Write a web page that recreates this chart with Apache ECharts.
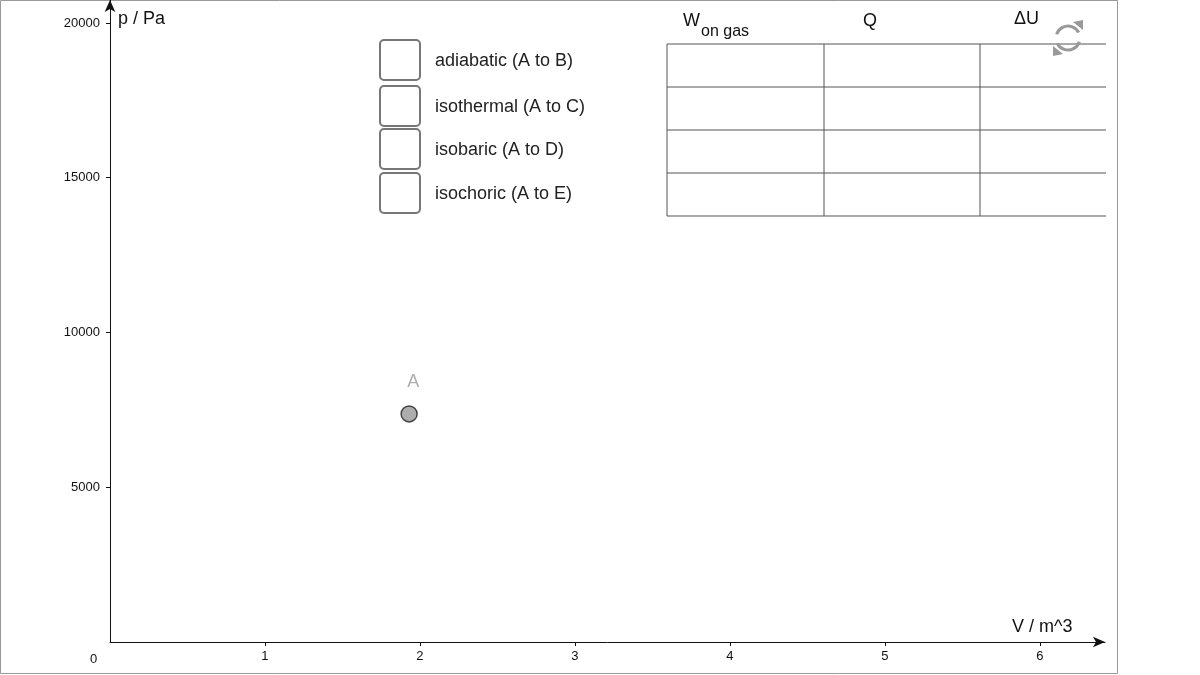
<!DOCTYPE html>
<html><head><meta charset="utf-8">
<script src="https://cdn.jsdelivr.net/npm/echarts@6/dist/echarts.min.js"></script>
<style>html,body{margin:0;padding:0;background:#fff}#c{width:1200px;height:675px}</style>
</head><body><div id="c"></div>
<script>
const pointNames = ['A'];
const pointV = [1.93];
const pointP = [7370];
const processLabels = ['adiabatic (A to B)', 'isothermal (A to C)', 'isobaric (A to D)', 'isochoric (A to E)'];
const tableHeaders = ['Q', 'ΔU'];
const xTicks = [1, 2, 3, 4, 5, 6];
const yTicks = [5000, 10000, 15000, 20000];
const chart = echarts.init(document.getElementById('c'));
const F = 'Liberation Sans, Arial, sans-serif';
const g = [];
g.push({type:'rect', shape:{x:0.5,y:0.5,width:1117,height:673}, style:{fill:'none',stroke:'#999',lineWidth:1}, z:0});
const boxY=[40,86,129,173];
processLabels.forEach((t,i)=>{
  g.push({type:'rect', shape:{x:380,y:boxY[i],width:40,height:40,r:4}, style:{fill:'#fff',stroke:'#777',lineWidth:2}});
  g.push({type:'text', x:435, y:boxY[i]+21, style:{text:t,fill:'#222',font:'18px '+F,textVerticalAlign:'middle'}});
});
[44,87,130,173,216].forEach(y=>g.push({type:'line',shape:{x1:667,y1:y,x2:1106,y2:y},style:{stroke:'#555',lineWidth:1}}));
[667,824,980].forEach(x=>g.push({type:'line',shape:{x1:x,y1:44,x2:x,y2:216},style:{stroke:'#555',lineWidth:1}}));
g.push({type:'text',x:683,y:12,style:{text:'W',fill:'#111',font:'18px '+F}});
g.push({type:'text',x:701,y:24,style:{text:'on gas',fill:'#111',font:'16px '+F}});
g.push({type:'text',x:863,y:12,style:{text:tableHeaders[0],fill:'#111',font:'18px '+F}});
g.push({type:'text',x:1014,y:10,style:{text:tableHeaders[1],fill:'#111',font:'18px '+F}});
g.push({type:'arc',shape:{cx:1068,cy:38,r:12,startAngle:Math.PI*1.1,endAngle:Math.PI*1.85},style:{stroke:'#999',lineWidth:3,fill:'none'}});
g.push({type:'arc',shape:{cx:1068,cy:38,r:12,startAngle:Math.PI*0.1,endAngle:Math.PI*0.85},style:{stroke:'#999',lineWidth:3,fill:'none'}});
g.push({type:'polygon',shape:{points:[[1073,22],[1083,30],[1083,20]]},style:{fill:'#999'}});
g.push({type:'polygon',shape:{points:[[1063,54],[1053,46],[1053,56]]},style:{fill:'#999'}});
g.push({type:'text',x:118,y:10,style:{text:'p / Pa',fill:'#111',font:'18px '+F}});
g.push({type:'text',x:1012,y:618,style:{text:'V / m^3',fill:'#111',font:'18px '+F}});
g.push({type:'text',x:90,y:653,style:{text:'0',fill:'#111',font:'13px '+F}});
chart.setOption({
  animation:false,
  grid:{left:110,top:0,right:95,bottom:33},
  xAxis:{type:'value',min:0,max:6.42,interval:1,
    axisLine:{lineStyle:{color:'#111'},symbol:['none','arrow'],symbolSize:[8,12]},
    axisTick:{show:true,length:4,lineStyle:{color:'#111'}},
    splitLine:{show:false},
    axisLabel:{showMinLabel:false,showMaxLabel:false,color:'#111',fontSize:13,fontFamily:F,margin:8,
      formatter:v=>xTicks.includes(v)?String(v):''}},
  yAxis:{type:'value',min:0,max:20743,interval:5000,
    axisLine:{show:true,lineStyle:{color:'#111'},symbol:['none','arrow'],symbolSize:[8,12]},
    axisTick:{show:true,length:4,lineStyle:{color:'#111'}},
    splitLine:{show:false},
    axisLabel:{showMinLabel:false,showMaxLabel:false,color:'#111',fontSize:13,fontFamily:F,margin:10,
      formatter:v=>yTicks.includes(v)?String(v):''}},
  series:[{type:'scatter',data:pointV.map((v,i)=>({value:[v,pointP[i]],name:pointNames[i]})),
    symbolSize:16,itemStyle:{color:'#999',borderColor:'#222',borderWidth:1.5},
    label:{show:true,formatter:'{b}',position:[7,-32],color:'#999',fontSize:18,fontFamily:F}}],
  graphic:g
});
</script></body></html>
